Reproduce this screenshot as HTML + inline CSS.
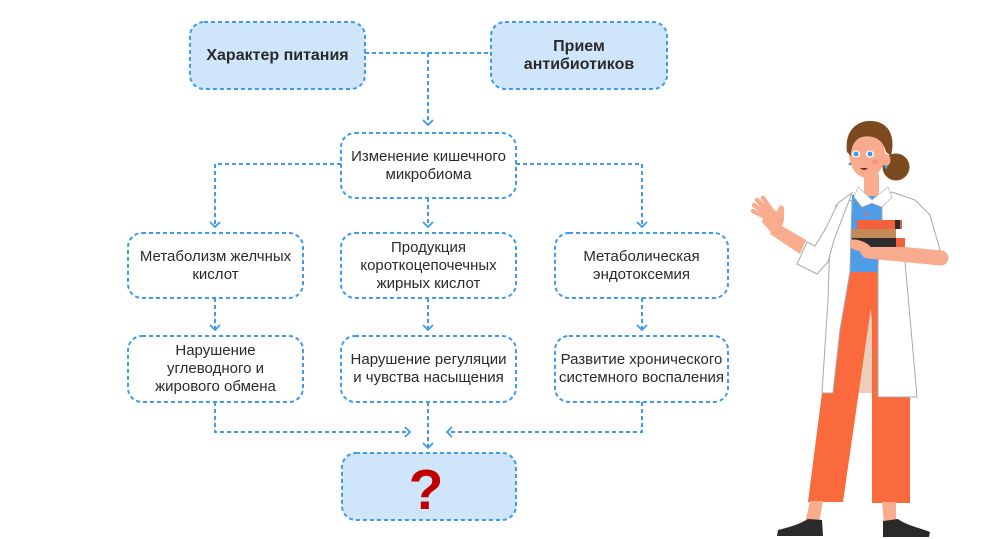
<!DOCTYPE html>
<html><head><meta charset="utf-8">
<style>
html,body{margin:0;padding:0;background:#fff;}
#w{position:relative;width:1000px;height:539px;overflow:hidden;background:#fff;font-family:"Liberation Sans",Arial,sans-serif;}
svg{position:absolute;left:0;top:0;}
.t{position:absolute;display:flex;align-items:center;justify-content:center;text-align:center;color:#2a2a2a;font-size:15px;line-height:18px;white-space:nowrap;}
.b{font-weight:bold;font-size:16px;}
</style></head><body><div id="w">
<svg width="1000" height="539" viewBox="0 0 1000 539">
<g fill="none" stroke="#3d9bef" stroke-width="2" stroke-dasharray="4 3">
<rect x="190" y="22" width="175" height="67" rx="14" fill="#cfe6fa"/>
<rect x="491" y="22" width="176" height="67" rx="14" fill="#cfe6fa"/>
<rect x="341" y="133" width="175" height="65" rx="14"/>
<rect x="128" y="233" width="175" height="65" rx="14"/>
<rect x="341" y="233" width="175" height="65" rx="14"/>
<rect x="555" y="233" width="173" height="65" rx="14"/>
<rect x="128" y="336" width="175" height="66" rx="14"/>
<rect x="341" y="336" width="175" height="66" rx="14"/>
<rect x="555" y="336" width="173" height="66" rx="14"/>
<rect x="342" y="453" width="174" height="67" rx="14" fill="#cfe6fa"/>
<path d="M365 53H491M428 53V124"/>
<path d="M341 164H215V226M516 164H642V226M428 198V226"/>
<path d="M215 298V329M428 298V329M642 298V329"/>
<path d="M215 402V432H409M642 402V432H448M428 402V447"/>
</g>
<g fill="none" stroke="#3d9bef" stroke-width="1.8">
<path d="M423 120L428 125L433 120"/>
<path d="M210 222L215 227L220 222M423 222L428 227L433 222M637 222L642 227L647 222"/>
<path d="M210 325L215 330L220 325M423 325L428 330L433 325M637 325L642 330L647 325"/>
<path d="M405 427L410 432L405 437M452 427L447 432L452 437M423 443L428 448L433 443"/>
</g>
<text x="426" y="509" text-anchor="middle" font-family="Liberation Sans, Arial, sans-serif" font-weight="bold" font-size="57" fill="#c00000">?</text>

<!-- figure -->
<g>
<polygon points="868,312 872,312 872,393 858,393" fill="#efcdb9"/>
<polygon points="850,272 870,272 872,300 843,502 808,502 822,393 840,300" fill="#fb6a3c"/>
<polygon points="866,272 880,272 910,397 910,503 872,503 872,320" fill="#fb6a3c"/>
<polygon points="810,501 823,501 819,523 805,523" fill="#f9ab8d"/>
<polygon points="882,502 896,502 896,523 884,523" fill="#f9ab8d"/>
<path d="M777,536 L778,530 C790,527 800,524 808,519 L822,520 L823,536 Z" fill="#2a2a2a"/>
<path d="M883,521 L898,519 C906,525 920,528 930,532 L929,537 L883,537 Z" fill="#2a2a2a"/>
<polygon points="852,195 886,195 882,262 878,272 850,272" fill="#4f9de8"/>
<circle cx="868" cy="204" r="1.5" fill="#fb6a3c"/>
<circle cx="867" cy="214" r="1.5" fill="#fb6a3c"/>
<polygon points="836,205 830,240 828,300 822,393 833,393 840,330 850,272 852,200" fill="#fff" stroke="#a8a8a8" stroke-width="1"/>
<polygon points="882,200 892,192 915,200 930,215 940,250 905,262 912,340 917,397 878,397 878,262 882,240" fill="#fff" stroke="#a8a8a8" stroke-width="1"/>
<!-- raised hand -->
<g stroke="#f9ab8d" stroke-width="4.5" stroke-linecap="round">
<line x1="767" y1="218" x2="753" y2="211"/>
<line x1="768" y1="215" x2="754" y2="205"/>
<line x1="770" y1="213" x2="757" y2="200"/>
<line x1="773" y1="212" x2="763" y2="198"/>
</g>
<polygon points="764,214 772,210 777,211 780,205 784,207 784,220 781,230 771,232 762,222" fill="#f9ab8d"/>
<polygon points="775,222 806,240 800,254 770,234" fill="#f9ab8d"/>
<polygon points="852,193 838,203 826,228 815,246 807,242 797,264 817,274 828,262 834,240" fill="#fff" stroke="#a8a8a8" stroke-width="1"/>
<line x1="868" y1="251" x2="941" y2="258" stroke="#f9ab8d" stroke-width="15" stroke-linecap="round"/>
<rect x="857" y="220" width="45" height="9" fill="#f2613a"/>
<rect x="895" y="220" width="5" height="9" fill="#2d2d2d"/>
<rect x="852" y="229" width="44" height="9" fill="#c18a56"/>
<rect x="852" y="238" width="53" height="9" fill="#2d2d2d"/>
<rect x="896" y="238" width="9" height="9" fill="#f2613a"/>
<path d="M850,240 C856,238 866,242 870,246 L868,253 C860,252 852,250 850,246 Z" fill="#f9ab8d"/>
<rect x="864" y="174" width="15" height="22" fill="#f9ab8d"/>
<polygon points="858,187 872,200 888,187 892,197 882,207 872,203 862,207 854,197" fill="#fff" stroke="#bdbdbd" stroke-width="0.8"/>
<circle cx="896" cy="167" r="13.5" fill="#7b4a1e"/>
<ellipse cx="867" cy="154" rx="18" ry="24" fill="#f9ab8d"/>
<ellipse cx="886" cy="160" rx="4.5" ry="6" fill="#f9ab8d"/>
<circle cx="886" cy="167" r="1.6" fill="#3d9bef"/>
<circle cx="850" cy="164" r="1.4" fill="#3d9bef"/>
<path d="M847,152 C844,130 858,120 872,121 C888,122 896,135 891,156 L886,152 C884,142 876,134 862,137 C855,139 851,146 851,156 Z" fill="#7b4a1e"/>
<ellipse cx="856" cy="154" rx="4" ry="3.5" fill="#fff"/>
<ellipse cx="870" cy="154" rx="4" ry="3.5" fill="#fff"/>
<circle cx="856" cy="154" r="2.5" fill="#3d9bef"/>
<circle cx="870" cy="154" r="2.5" fill="#3d9bef"/>
<ellipse cx="875" cy="162" rx="4" ry="2.5" fill="#f48a7a" opacity="0.6"/>
<path d="M860,168 Q864,172 868,168 Z" fill="#7a2b20"/>
</g>
</svg>
<div class="t b" style="left:190px;top:22px;width:175px;height:67px;">Характер питания</div>
<div class="t b" style="left:491px;top:22px;width:176px;height:67px;">Прием<br>антибиотиков</div>
<div class="t" style="left:341px;top:133px;width:175px;height:65px;">Изменение кишечного<br>микробиома</div>
<div class="t" style="left:128px;top:233px;width:175px;height:65px;">Метаболизм желчных<br>кислот</div>
<div class="t" style="left:341px;top:233px;width:175px;height:65px;">Продукция<br>короткоцепочечных<br>жирных кислот</div>
<div class="t" style="left:555px;top:233px;width:173px;height:65px;">Метаболическая<br>эндотоксемия</div>
<div class="t" style="left:128px;top:336px;width:175px;height:66px;">Нарушение<br>углеводного и<br>жирового обмена</div>
<div class="t" style="left:341px;top:336px;width:175px;height:66px;">Нарушение регуляции<br>и чувства насыщения</div>
<div class="t" style="left:555px;top:336px;width:173px;height:66px;">Развитие хронического<br>системного воспаления</div>
</div></body></html>
